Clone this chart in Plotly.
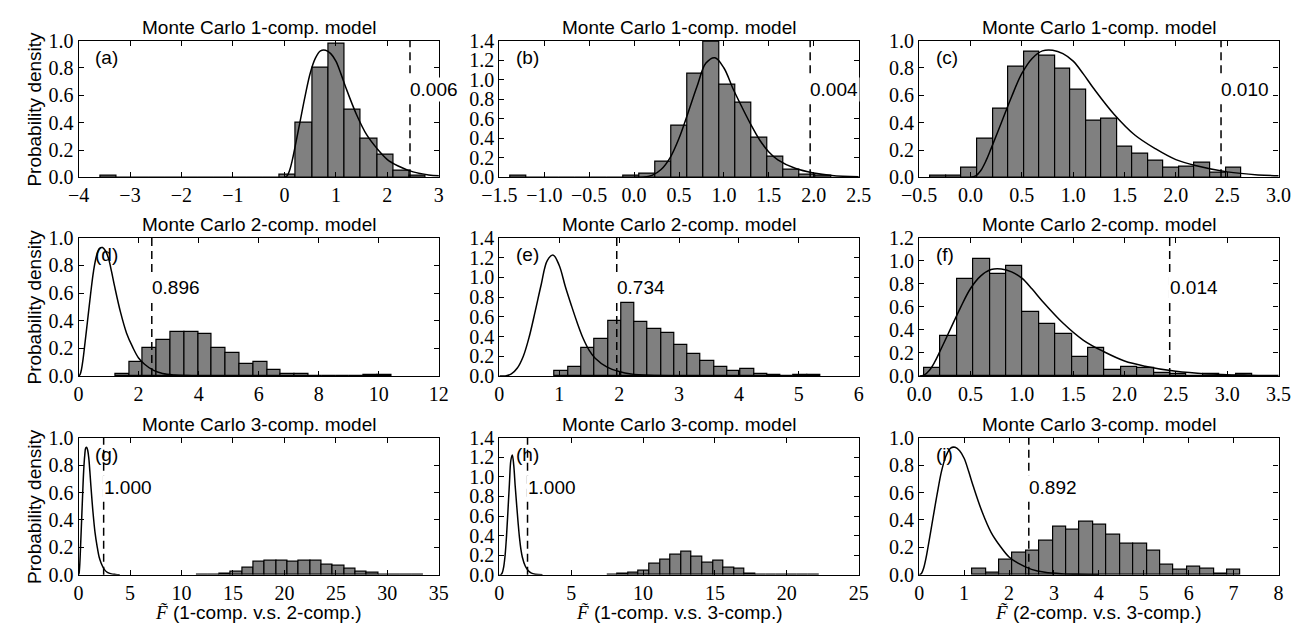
import plotly.graph_objects as go

# ---------------- data ----------------
# theoretical pdf curves
curve_a_x = [0.0, 0.05, 0.1, 0.15, 0.2, 0.3, 0.4, 0.5, 0.6, 0.7, 0.8, 0.9, 1.0, 1.1, 1.2,
             1.4, 1.6, 1.8, 2.0, 2.2, 2.5, 2.8, 3.2, 3.6, 4.0]
curve_a_y = [0.0, 0.01, 0.05, 0.12, 0.21, 0.40, 0.59, 0.76, 0.87, 0.925, 0.93, 0.905, 0.85, 0.755, 0.65,
             0.46, 0.31, 0.21, 0.13, 0.085, 0.04, 0.018, 0.007, 0.003, 0.001]
curve_b_x = [0.0, 0.1, 0.2, 0.3, 0.4, 0.5, 0.6, 0.7, 0.8, 0.9, 1.0, 1.1, 1.2, 1.3, 1.4,
             1.5, 1.6, 1.8, 2.0, 2.2, 2.5, 3.0]
curve_b_y = [0.0, 0.0, 0.02, 0.08, 0.2, 0.4, 0.66, 0.93, 1.17, 1.225, 1.12, 0.91, 0.72, 0.54, 0.38,
             0.26, 0.18, 0.09, 0.045, 0.02, 0.006, 0.001]

# histograms: first bin edge, bin width, bin heights (20 bins each)
hist_a_start, hist_a_width = -3.57, 0.316
hist_a = [0.009, 0, 0, 0, 0, 0, 0, 0, 0, 0, 0, 0.02, 0.40, 0.80, 0.979, 0.494, 0.282, 0.165, 0.047, 0.016]
hist_b_start, hist_b_width = -1.373, 0.1787
hist_b = [0.017, 0, 0, 0, 0, 0, 0, 0.02, 0.04, 0.165, 0.525, 1.063, 1.39, 0.948, 0.769, 0.409, 0.211, 0.083, 0.026, 0.017]
hist_c_start, hist_c_width = -0.389, 0.1513
hist_c = [0.012, 0.012, 0.07, 0.282, 0.506, 0.812, 0.918, 0.892, 0.798, 0.64, 0.412, 0.428, 0.228, 0.174, 0.12, 0.068, 0.082, 0.11, 0.035, 0.068]
hist_d_start, hist_d_width = 1.226, 0.4595
hist_d = [0.014, 0.10, 0.20, 0.263, 0.317, 0.317, 0.308, 0.204, 0.169, 0.085, 0.099, 0.047, 0.012, 0.016, 0, 0, 0, 0, 0.005, 0.005]
hist_e_start, hist_e_width = 0.925, 0.2217
hist_e = [0.049, 0.087, 0.288, 0.379, 0.56, 0.745, 0.544, 0.48, 0.434, 0.318, 0.227, 0.156, 0.087, 0.049, 0.075, 0.026, 0.006, 0, 0.01, 0.01]
hist_f_start, hist_f_width = 0.048, 0.1598
hist_f = [0.071, 0.346, 0.84, 1.017, 0.891, 0.954, 0.56, 0.449, 0.369, 0.169, 0.243, 0.051, 0.08, 0.071, 0.029, 0.02, 0, 0.014, 0, 0.014]
hist_g_start, hist_g_width = 11.5, 1.1
hist_g = [0.002, 0.003, 0.005, 0.019, 0.052, 0.099, 0.106, 0.101, 0.099, 0.104, 0.101, 0.075, 0.07, 0.047, 0.019, 0.016, 0.004, 0, 0.002, 0.002]
hist_h_start, hist_h_width = 7.49, 0.737
hist_h = [0.003, 0.007, 0.02, 0.043, 0.116, 0.155, 0.201, 0.231, 0.182, 0.125, 0.142, 0.073, 0.063, 0.01, 0.003, 0.002, 0, 0.002, 0, 0.002]
hist_i_start, hist_i_width = 1.182, 0.2988
hist_i = [0.047, 0.014, 0.107, 0.161, 0.175, 0.251, 0.351, 0.329, 0.386, 0.365, 0.291, 0.227, 0.227, 0.173, 0.076, 0.036, 0.059, 0.047, 0.005, 0.04]

panel_letters = ["(a)", "(b)", "(c)", "(d)", "(e)", "(f)", "(g)", "(h)", "(i)"]
row_titles = ["Monte Carlo 1-comp. model", "Monte Carlo 2-comp. model", "Monte Carlo 3-comp. model"]
p_values = ["0.006", "0.004", "0.010", "0.896", "0.734", "0.014", "1.000", "1.000", "0.892"]
crit_values = [2.44, 1.96, 2.44]          # per column
col_titles = ["(1-comp. v.s. 2-comp.)", "(1-comp. v.s. 3-comp.)", "(2-comp. v.s. 3-comp.)"]
x_ranges = [[-4, 3], [-1.5, 2.5], [-0.5, 3.0], [0, 12], [0, 6], [0, 3.5], [0, 35], [0, 25], [0, 8]]
x_dticks = [1, 0.5, 0.5, 2, 1, 0.5, 5, 5, 1]
y_max = [1.0, 1.4, 1.0, 1.0, 1.4, 1.2, 1.0, 1.4, 1.0]

hists = [(hist_a_start, hist_a_width, hist_a), (hist_b_start, hist_b_width, hist_b),
         (hist_c_start, hist_c_width, hist_c), (hist_d_start, hist_d_width, hist_d),
         (hist_e_start, hist_e_width, hist_e), (hist_f_start, hist_f_width, hist_f),
         (hist_g_start, hist_g_width, hist_g), (hist_h_start, hist_h_width, hist_h),
         (hist_i_start, hist_i_width, hist_i)]
curves = [(curve_a_x, curve_a_y), (curve_b_x, curve_b_y), (curve_a_x, curve_a_y)]  # per column

# ---------------- layout geometry ----------------
W, H = 1313, 637
col_px = [(62, 431), (493, 861), (923, 1291)]
row_px = [(30.7, 172.3), (235.0, 378.0), (442.0, 584.0)]
SANS = "Liberation Sans, Arial, Helvetica, sans-serif"
SERIF = "Liberation Serif, Times New Roman, serif"
FS = 19
TFS = 20

fig = go.Figure()
layout = dict(width=W, height=H, margin=dict(l=0, r=0, t=0, b=0),
              paper_bgcolor="white", plot_bgcolor="white", showlegend=False,
              bargap=0)
annotations = []
shapes = []

for k in range(9):
    r, c = divmod(k, 3)
    n = k + 1
    xa = "x" if n == 1 else f"x{n}"
    ya = "y" if n == 1 else f"y{n}"
    xkey = "xaxis" if n == 1 else f"xaxis{n}"
    ykey = "yaxis" if n == 1 else f"yaxis{n}"

    start, width, heights = hists[k]
    centers = [start + width * (i + 0.5) for i in range(len(heights))]
    fig.add_trace(go.Bar(x=centers, y=heights, width=[width] * len(heights),
                         marker=dict(color="#808080", line=dict(color="black", width=1.2)),
                         xaxis=xa, yaxis=ya, hoverinfo="skip"))
    cx, cy = curves[c]
    fig.add_trace(go.Scatter(x=cx, y=cy, mode="lines", line=dict(color="black", width=1.5, shape="spline"),
                             xaxis=xa, yaxis=ya, hoverinfo="skip"))

    x0, x1 = col_px[c]
    t0, t1 = row_px[r]
    fmt = ".1f" if x_dticks[k] < 1 else "d"
    xr = x_ranges[k]
    layout[xkey] = dict(domain=[x0 / W, x1 / W], anchor=ya, range=[xr[0] - 1e-9, xr[1] + 1e-9],
                        tick0=0, dtick=x_dticks[k], tickformat=fmt, ticks="inside", ticklen=5,
                        tickwidth=1, tickcolor="black", mirror="allticks", showline=True,
                        linecolor="black", linewidth=1.2, showgrid=False, zeroline=False,
                        tickangle=0, tickfont=dict(family=SERIF, size=TFS, color="black"))
    layout[ykey] = dict(domain=[1 - t1 / H, 1 - t0 / H], anchor=xa, range=[0, y_max[k] + 1e-9],
                        tick0=0, dtick=0.2, tickformat=".1f", ticks="inside", ticklen=5,
                        tickwidth=1, tickcolor="black", mirror="allticks", showline=True,
                        linecolor="black", linewidth=1.2, showgrid=False, zeroline=False,
                        tickfont=dict(family=SERIF, size=TFS, color="black"))

    # critical value dashed line
    shapes.append(dict(type="line", xref=xa, yref=f"{ya} domain", x0=crit_values[c], x1=crit_values[c],
                       y0=0, y1=1, line=dict(color="black", width=1.5, dash="8px,5px")))
    # p-value label
    annotations.append(dict(xref=xa, yref=f"{ya} domain", x=crit_values[c], y=0.64, text=p_values[k],
                            xanchor="left", yanchor="middle", showarrow=False, xshift=-2,
                            bgcolor="white", borderpad=1,
                            font=dict(family=SANS, size=FS, color="black")))
    # panel letter
    annotations.append(dict(xref=f"{xa} domain", yref=f"{ya} domain", x=0.04, y=0.88,
                            text=panel_letters[k], xanchor="left", yanchor="middle", showarrow=False,
                            font=dict(family=SANS, size=FS, color="black")))
    # title
    annotations.append(dict(xref=f"{xa} domain", yref=f"{ya} domain", x=0.5, y=1,
                            text=row_titles[r], xanchor="center", yanchor="middle", showarrow=False,
                            yshift=13, font=dict(family=SANS, size=FS, color="black")))
    if c == 0:
        annotations.append(dict(xref="paper", yref=f"{ya} domain", x=17 / W, y=0.5,
                                text="Probability density", textangle=-90, xanchor="center",
                                yanchor="middle", showarrow=False,
                                font=dict(family=SANS, size=FS, color="black")))
    if r == 2:
        annotations.append(dict(xref=f"{xa} domain", yref=f"{ya} domain", x=0.5, y=0,
                                text=f'<span style="font-family:Liberation Serif"><i>F\u0303</i></span> {col_titles[c]}',
                                xanchor="center", yanchor="top", showarrow=False, yshift=-25,
                                font=dict(family=SANS, size=FS, color="black")))

layout["annotations"] = annotations
layout["shapes"] = shapes
fig.update_layout(**layout)
fig.write_html("out.html")
